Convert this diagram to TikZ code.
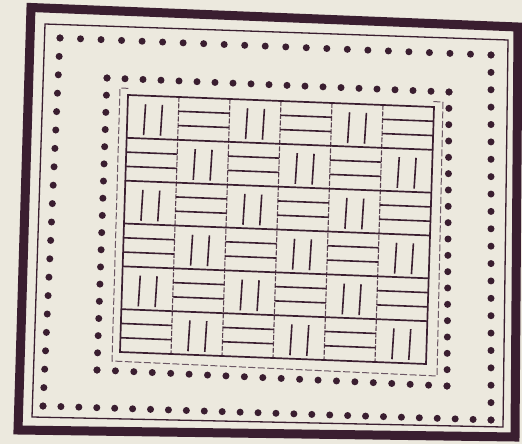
\documentclass[tikz,border=0pt]{standalone}
\usetikzlibrary{calc}
\definecolor{paper}{RGB}{236,233,222}
\definecolor{ink}{RGB}{58,30,48}
\begin{document}
\begin{tikzpicture}[x=1pt,y=-1pt,
  frameline/.style={draw=ink,line width=9pt,line join=miter},
  thinframe/.style={draw=ink,line width=1.3pt},
  dashframe/.style={draw=ink!75,line width=1pt,dash pattern=on 7pt off 2.5pt},
  gridline/.style={draw=ink,line width=1.7pt},
  sepline/.style={draw=ink!85,line width=1.1pt,dash pattern=on 5pt off 1.5pt},
  weave/.style={draw=ink,line width=1.6pt},
  dotfill/.style={fill=ink}]
\fill[paper] (0,0) rectangle (522,444);
\useasboundingbox (0,0) rectangle (522,444);
% heavy outer border
\coordinate (F1) at (31,7.5);
\coordinate (F2) at (518,27);
\coordinate (F3) at (515,437);
\coordinate (F4) at (18,430);
\draw[frameline] (F1) -- (F2) -- (F3) -- (F4) -- cycle;
% thin frame
\coordinate (T1) at (45,24);
\coordinate (T2) at (508,40);
\coordinate (T3) at (503,427);
\coordinate (T4) at (32,417);
\draw[thinframe] (T1) -- (T2) -- (T3) -- (T4) -- cycle;
% outer ring of dots
\coordinate (oA) at (60,38);
\coordinate (oB) at (491,55);
\coordinate (oC) at (491,420);
\coordinate (oD) at (43,406);
\foreach \i in {0,...,21} \fill[dotfill] ($(oA)!\i/21!(oB)$) circle[radius=3.5pt];
\foreach \i in {0,...,21} \fill[dotfill] ($(oB)!\i/21!(oC)$) circle[radius=3.5pt];
\foreach \i in {0,...,25} \fill[dotfill] ($(oD)!\i/25!(oC)$) circle[radius=3.5pt];
\foreach \i in {0,...,20} \fill[dotfill] ($(oA)!\i/20!(oD)$) circle[radius=3.5pt];
% inner ring of dots
\coordinate (iA) at (107,78);
\coordinate (iB) at (449,92);
\coordinate (iC) at (447,386);
\coordinate (iD) at (97,370);
\foreach \i in {0,...,19} \fill[dotfill] ($(iA)!\i/19!(iB)$) circle[radius=3.5pt];
\foreach \i in {0,...,18} \fill[dotfill] ($(iB)!\i/18!(iC)$) circle[radius=3.5pt];
\foreach \i in {0,...,19} \fill[dotfill] ($(iD)!\i/19!(iC)$) circle[radius=3.5pt];
\foreach \i in {0,...,17} \fill[dotfill] ($(iA)!\i/17!(iD)$) circle[radius=3.5pt];
% faint broken frame round the weave
\coordinate (dA) at (120,88);
\coordinate (dB) at (443,102);
\coordinate (dC) at (437,376);
\coordinate (dD) at (112,361);
\draw[dashframe] (dB) -- (dC) -- (dD) -- (dA) -- ($(dA)!0.03!(dB)$);
\draw[dashframe] ($(dB)!0.03!(dA)$) -- (dB);
% basket weave
\begin{scope}[shift={(128,95)},x={(306pt,-12pt)},y={(-8pt,-257pt)}]
  \foreach \c in {1,...,5} \draw[sepline] (\c/6,0) -- (\c/6,1);
  \foreach \r in {1,...,5} \draw[gridline] (0,\r/6) -- (1,\r/6);
  \draw[gridline] (0,0) -- (1,0) -- (1,1) -- (0,1) -- cycle;
  \foreach \r in {0,...,5} {
    \foreach \c in {0,...,5} {
      \pgfmathtruncatemacro\parity{mod(\r+\c,2)}
      \ifnum\parity=0
        \draw[weave] ({(\c+0.35)/6},{(\r+0.2)/6}) -- ({(\c+0.33)/6},{(\r+0.92)/6});
        \draw[weave] ({(\c+0.68)/6},{(\r+0.2)/6}) -- ({(\c+0.66)/6},{(\r+0.92)/6});
      \else
        \draw[weave] ({\c/6},{(\r+1/3)/6}) -- ({(\c+1)/6},{(\r+1/3)/6});
        \draw[weave] ({\c/6},{(\r+2/3)/6}) -- ({(\c+1)/6},{(\r+2/3)/6});
      \fi
    }
  }
\end{scope}
\end{tikzpicture}
\end{document}
